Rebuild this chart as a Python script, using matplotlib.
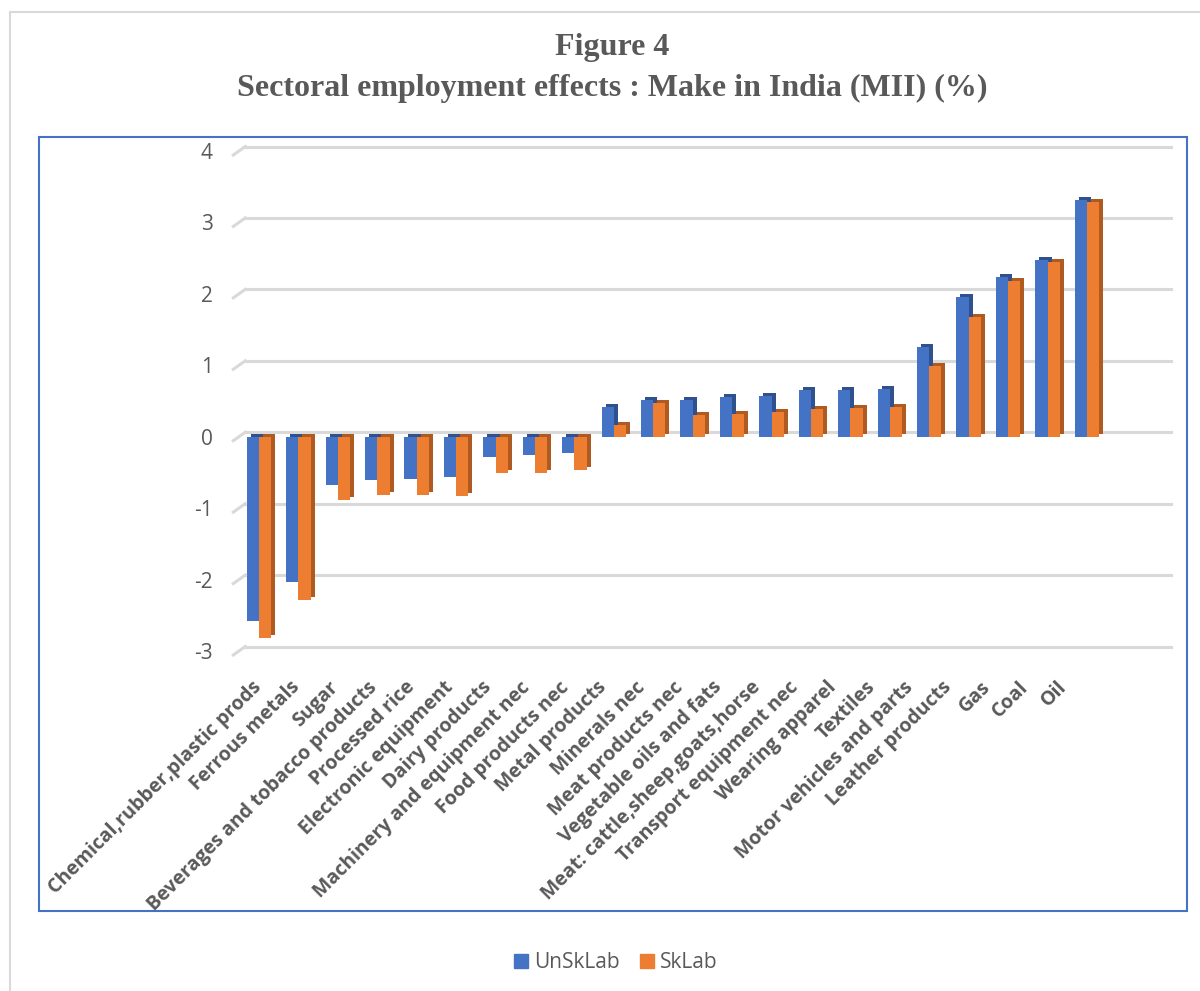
import numpy as np
import matplotlib
matplotlib.use("Agg")
import matplotlib.pyplot as plt
from matplotlib.transforms import ScaledTranslation
from matplotlib.patches import Rectangle, Patch
from matplotlib.lines import Line2D

categories = ["Chemical,rubber,plastic prods", "Ferrous metals", "Sugar",
              "Beverages and tobacco products", "Processed rice", "Electronic equipment",
              "Dairy products", "Machinery and equipment nec", "Food products nec",
              "Metal products", "Minerals nec", "Meat products nec",
              "Vegetable oils and fats", "Meat: cattle,sheep,goats,horse",
              "Transport equipment nec", "Wearing apparel", "Textiles",
              "Motor vehicles and parts", "Leather products", "Gas", "Coal", "Oil"]
unsklab = [-2.58, -2.04, -0.67, -0.61, -0.59, -0.57, -0.28, -0.25, -0.23, 0.42, 0.51,
           0.52, 0.55, 0.57, 0.65, 0.66, 0.67, 1.26, 1.95, 2.23, 2.47, 3.32]
sklab = [-2.82, -2.29, -0.89, -0.82, -0.81, -0.83, -0.51, -0.51, -0.46, 0.16, 0.47,
         0.30, 0.32, 0.34, 0.39, 0.40, 0.41, 0.99, 1.68, 2.18, 2.44, 3.28]
yticks = [-3, -2, -1, 0, 1, 2, 3, 4]

grey = "#595959"
blue, blue_dark = "#4472C4", "#2F528F"
orange, orange_dark = "#ED7D31", "#AE5A21"

W, H = 1200, 991
fig = plt.figure(figsize=(W / 100, H / 100), dpi=100)
ax = fig.add_axes([239.3 / W, 1 - 651 / H, (1165 - 239.3) / W, 500 / H])
ax.set_xlim(-0.5, 22.98)
ax.set_ylim(-3, 4)
for s in ax.spines.values():
    s.set_visible(False)

# back wall gridlines, pushed back a few pixels for the 3d look
grid_off = ScaledTranslation(6 / 100, 4.5 / 100, fig.dpi_scale_trans)
for y in yticks:
    ax.plot([0, 1], [y, y], color="#D9D9D9", lw=2.2, zorder=1, clip_on=False,
            transform=ax.get_yaxis_transform() + grid_off)
    px, py = ax.get_yaxis_transform().transform((0, y))
    fig.add_artist(Line2D([px - 6, px + 6], [py - 4, py + 4.5], color="#D9D9D9", lw=2.2,
                          transform=matplotlib.transforms.IdentityTransform()))

x = np.arange(len(categories))
w = 0.31
depth = ScaledTranslation(4 / 100, 3 / 100, fig.dpi_scale_trans)

# extruded copy behind each bar, then the front face
b_back = ax.bar(x - w / 2, unsklab, w, color=blue_dark, zorder=2)
for p in b_back:
    p.set_transform(ax.transData + depth)
ax.bar(x - w / 2, unsklab, w, color=blue, zorder=3)
o_back = ax.bar(x + w / 2, sklab, w, color=orange_dark, zorder=4)
for p in o_back:
    p.set_transform(ax.transData + depth)
ax.bar(x + w / 2, sklab, w, color=orange, zorder=5)

ax.set_yticks(yticks)
ax.set_yticklabels([str(v) for v in yticks], family="Open Sans", fontsize=15, color=grey)
ax.tick_params(axis="y", length=0, pad=19)
# labels sit on a slightly tighter pitch than the bars (perspective)
ax.set_xticks(x * 0.972)
ax.set_xticklabels(categories, rotation=45, ha="right", va="center",
                   rotation_mode="anchor", family="Open Sans", fontweight="bold",
                   fontsize=14, color=grey)
ax.tick_params(axis="x", length=0, pad=24)

fig.text(612 / W, 1 - 47 / H, "Figure 4", ha="center", va="center",
         family="Liberation Serif", fontweight="bold", fontsize=23, color=grey)
fig.text(612 / W, 1 - 88 / H, "Sectoral employment effects : Make in India (MII) (%)",
         ha="center", va="center", family="Liberation Serif", fontweight="bold",
         fontsize=23, color=grey)

handles = [Patch(color=blue, label="UnSkLab"), Patch(color=orange, label="SkLab")]
fig.legend(handles=handles, loc="center", bbox_to_anchor=(616 / W, 1 - 963 / H),
           ncol=2, frameon=False, prop={"family": "Open Sans", "size": 15},
           labelcolor=grey, handlelength=0.65, handleheight=0.65,
           handletextpad=0.3, columnspacing=1.0)

# chart frame and page border
fig.add_artist(Rectangle((39 / W, 1 - 911 / H), (1187 - 39) / W, (911 - 137) / H,
                         transform=fig.transFigure, fill=False, edgecolor=blue, lw=1.5))
fig.add_artist(Line2D([10 / W, 10 / W], [0, 1 - 12 / H], transform=fig.transFigure,
                      color="#D9D9D9", lw=1.5))
fig.add_artist(Line2D([10 / W, 1], [1 - 12 / H, 1 - 12 / H], transform=fig.transFigure,
                      color="#D9D9D9", lw=1.5))

fig.savefig("out.png", dpi=100, facecolor="white")
